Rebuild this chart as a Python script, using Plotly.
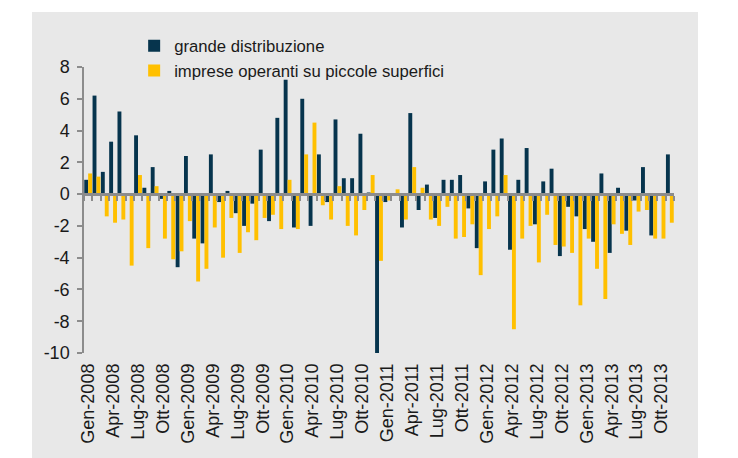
import plotly.graph_objects as go

# Mesi (Gen-2008 .. Nov-2013)
nomi_mesi = ["Gen", "Feb", "Mar", "Apr", "Mag", "Giu", "Lug", "Ago", "Set", "Ott", "Nov", "Dic"]
mesi = [f"{m}-{a}" for a in range(2008, 2014) for m in nomi_mesi][:71]

grande_distribuzione = [
    0.9, 6.2, 1.4, 3.3, 5.2, -0.1, 3.7, 0.4, 1.7, -0.3, 0.2, -4.6,
    2.4, -2.8, -3.1, 2.5, -0.5, 0.2, -1.2, -2.0, -0.6, 2.8, -1.7, 4.8,
    7.2, -2.1, 6.0, -2.0, 2.5, -0.5, 4.7, 1.0, 1.0, 3.8, 0.1, -10.1,
    -0.5, 0.0, -2.1, 5.1, -1.0, 0.6, -1.5, 0.9, 0.9, 1.2, -0.9, -3.4,
    0.8, 2.8, 3.5, -3.5, 0.9, 2.9, -1.9, 0.8, 1.6, -3.9, -0.8, -1.4,
    -2.2, -3.0, 1.3, -3.7, 0.4, -2.3, -0.4, 1.7, -2.6, -0.1, 2.5,
]

piccole_superfici = [
    1.3, 1.1, -1.4, -1.8, -1.6, -4.5, 1.2, -3.4, 0.5, -2.8, -4.1, -3.6,
    -1.7, -5.5, -4.7, -2.1, -4.0, -1.5, -3.7, -2.4, -2.9, -1.5, -1.3, -2.2,
    0.9, -2.2, 2.5, 4.5, -0.7, -1.6, 0.5, -2.0, -2.6, -1.0, 1.2, -4.2,
    -0.4, 0.3, -1.6, 1.7, 0.4, -1.6, -2.0, -0.8, -2.8, -2.7, -1.9, -5.1,
    -2.2, -1.4, 1.2, -8.5, -2.8, -2.0, -4.3, -1.3, -3.2, -3.3, -3.7, -7.0,
    -2.8, -4.7, -6.6, -1.9, -2.5, -3.2, -1.1, -1.0, -2.8, -2.8, -1.8,
]

# tacche asse y (trattino semplice come nell'originale)
y_tick_val = [-10, -8, -6, -4, -2, 0, 2, 4, 6, 8]
y_tick_txt = ["-10", "-8", "-6", "-4", "-2", "0", "2", "4", "6", "8"]

NAVY = "#06344d"
GIALLO = "#ffc000"
GRIGIO = "#8c8c8c"
SFONDO = "#e8e8e8"
FONT = "Liberation Sans, Arial, sans-serif"

fig = go.Figure()

fig.add_trace(go.Bar(
    x=mesi, y=grande_distribuzione,
    name="grande distribuzione",
    marker=dict(color=NAVY, line=dict(width=0)),
))
fig.add_trace(go.Bar(
    x=mesi, y=piccole_superfici,
    name="imprese operanti su piccole superfici",
    marker=dict(color=GIALLO, line=dict(width=0)),
))

# asse a zero (linea grigia con tacche mensili)
fig.add_trace(go.Scatter(
    x=mesi, y=[0] * len(mesi), xaxis="x2",
    mode="markers", marker=dict(opacity=0),
    showlegend=False, hoverinfo="skip",
))

y_min, y_max = -10, 8
pos_zero = (0 - y_min) / (y_max - y_min)

# la pagina ha 8px di margine: figura 730x450, area grafico 590x286
fig.update_layout(
    width=730, height=450,
    margin=dict(l=76, r=64, t=59, b=105, autoexpand=False),
    paper_bgcolor="white",
    plot_bgcolor=SFONDO,
    font=dict(family=FONT, size=18, color="#1a1a1a"),
    barmode="group",
    bargap=0.06,
    bargroupgap=0,
    xaxis=dict(
        type="category",
        categoryorder="array", categoryarray=mesi,
        range=[-0.5, len(mesi) - 0.5],
        tickmode="linear", tick0=0, dtick=3,
        tickangle=-90,
        ticks="", showline=False, showgrid=False, zeroline=False,
        ticklabelstandoff=6,
        tickfont=dict(size=18),
    ),
    xaxis2=dict(
        type="category",
        categoryorder="array", categoryarray=mesi,
        range=[-0.5, len(mesi) - 0.5],
        overlaying="x", anchor="free", position=pos_zero,
        showline=True, linecolor=GRIGIO, linewidth=2.5,
        ticks="outside", tickson="boundaries", ticklen=5,
        tickwidth=2, tickcolor=GRIGIO,
        tickmode="linear", tick0=0, dtick=1,
        showticklabels=False, showgrid=False, zeroline=False,
    ),
    yaxis=dict(
        range=[y_min, y_max],
        tickmode="array", tickvals=y_tick_val, ticktext=y_tick_txt,
        showline=True, linecolor=GRIGIO, linewidth=1.5,
        ticks="outside", ticklen=5, tickwidth=1.5, tickcolor=GRIGIO,
        showgrid=False, zeroline=False,
        ticklabelstandoff=4,
        tickfont=dict(size=18),
    ),
    legend=dict(
        x=0.085, y=1.135, xanchor="left", yanchor="top",
        bgcolor="rgba(0,0,0,0)",
        font=dict(size=16.7, color="#1a1a1a"),
        tracegroupgap=0, itemwidth=30,
    ),
    shapes=[
        dict(type="rect", xref="paper", yref="paper", layer="below",
             x0=(24 - 76) / 590, x1=(690 - 76) / 590,
             y0=-0.4, y1=(345 - 4) / 286,
             fillcolor=SFONDO, line=dict(width=0)),
    ],
)

fig.write_html("out.html")
